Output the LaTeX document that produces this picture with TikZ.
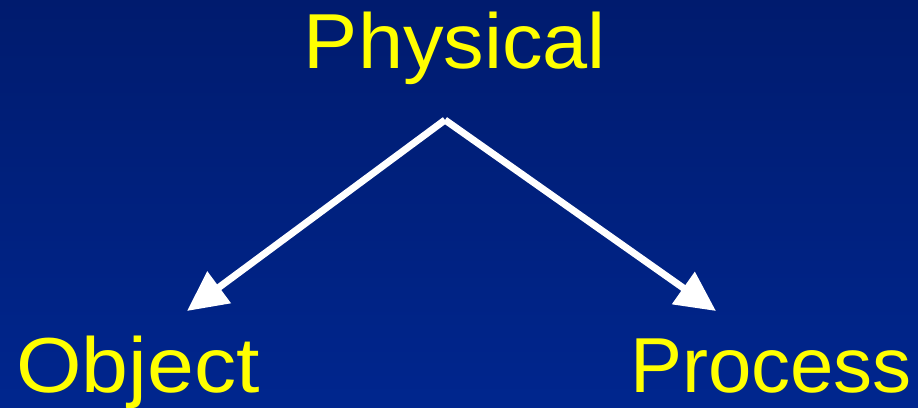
\documentclass[tikz,border=0pt]{standalone}
\usepackage{fontspec}
\setmainfont{Liberation Sans}
\usetikzlibrary{arrows.meta}
\definecolor{bgtop}{HTML}{001B6E}
\definecolor{bgbot}{HTML}{00268E}
\definecolor{lbl}{HTML}{FFFF00}
\tikzset{
  lbltext/.style={text=lbl, inner sep=0pt, font=\fontsize{78}{90}\selectfont},
  arr/.style={draw=white, line width=7pt, -{Triangle[length=40pt,width=38pt]}}
}
\begin{document}
\begin{tikzpicture}[x=1pt,y=-1pt]
\shade[top color=bgtop, bottom color=bgbot] (0,0) rectangle (918,407);
\useasboundingbox (0,0) rectangle (918,407);
\node[lbltext, anchor=base] (phys) at (455,68) {\scalebox{1.04}[1]{Physical}};
\node[lbltext, anchor=base west] (obj) at (16,392) {\scalebox{1.08}[1]{Object}};
\node[lbltext, anchor=base east] (proc) at (912,392) {Process};
\coordinate (apex) at (445,120);
\coordinate (lt) at (187,311);
\coordinate (rt) at (716,311);
\draw[arr] (apex) -- (lt);
\draw[arr] (apex) -- (rt);
\end{tikzpicture}
\end{document}
